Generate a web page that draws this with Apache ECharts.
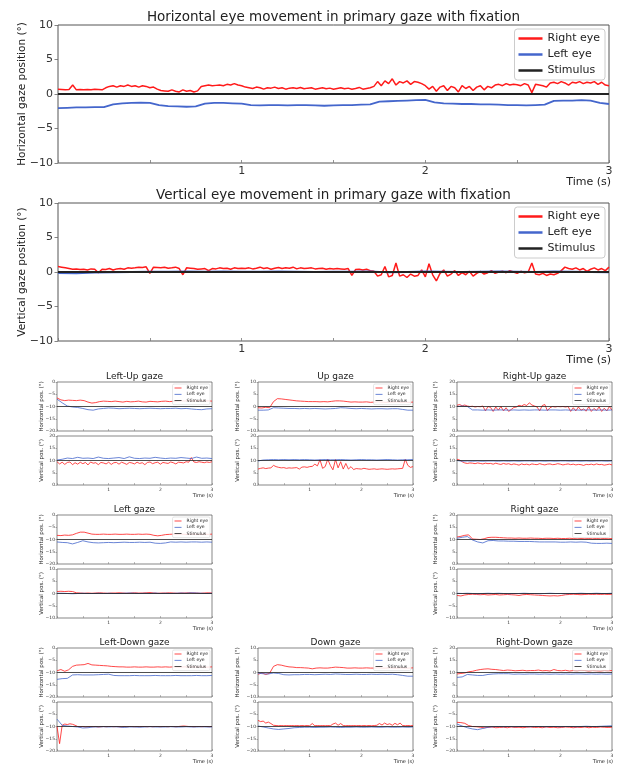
<!DOCTYPE html>
<html>
<head>
<meta charset="utf-8">
<script src="https://cdn.jsdelivr.net/npm/echarts@6.0.0/dist/echarts.min.js"></script>
<style>
  html, body { margin: 0; padding: 0; background: #fff; }
  #chart { width: 622px; height: 765px; }
</style>
</head>
<body>
<div id="chart"></div>
<script>
// ---------- labels ----------
const legendNames = ['Right eye', 'Left eye', 'Stimulus'];
const timeTickLabels = [1, 2, 3];

// ---------- primary gaze with fixation (degrees), 0–3 s ----------
// right eye sampled every 0.02 s, left eye every 0.05 s
const primaryHorizRight = [
  0.7,0.65,0.6,0.65,1.3,0.6,0.65,0.6,0.65,0.6,0.7,0.65,0.6,0.9,
  1.1,1.2,1.0,1.2,1.1,1.3,1.1,1.2,1.0,1.2,1.1,0.9,1.0,
  0.7,0.5,0.45,0.4,0.6,0.4,0.3,0.6,0.4,0.5,0.3,0.45,
  1.1,1.2,1.3,1.2,1.25,1.3,1.2,1.4,1.3,1.5,1.3,1.2,
  1.0,0.9,0.8,1.0,0.9,0.7,0.9,0.85,1.0,0.8,0.9,0.7,0.85,0.9,0.8,0.95,0.75,0.85,0.9,0.7,0.8,0.9,0.75,0.85,0.7,0.8,0.9,0.75,0.85,0.7,0.8,0.95,0.7,0.8,0.9,1.1,
  1.8,1.2,1.9,1.5,2.2,1.3,1.8,1.6,1.9,1.4,1.8,1.7,1.5,
  1.2,0.7,1.1,0.4,1.0,1.2,0.5,1.1,0.9,0.3,1.2,0.8,1.1,0.5,1.0,1.2,0.6,1.1,0.9,
  1.3,1.4,1.2,1.5,1.3,1.4,1.35,1.2,1.5,1.3,0.2,1.4,1.3,1.2,
  1.0,1.6,1.7,1.5,1.8,1.6,1.3,1.7,1.6,1.8,1.5,1.7,1.6,1.8,1.4,1.7,1.3,1.2
];
const primaryHorizLeft = [
  -2.05,-2.0,-1.95,-1.95,-1.9,-1.9,
  -1.5,-1.35,-1.3,-1.25,-1.3,
  -1.6,-1.75,-1.8,-1.85,-1.8,
  -1.4,-1.3,-1.3,-1.35,-1.4,
  -1.6,-1.65,-1.6,-1.6,-1.65,-1.6,-1.6,-1.65,-1.7,-1.65,-1.6,-1.6,-1.55,-1.5,
  -1.1,-1.05,-1.0,-0.95,-0.9,-0.85,
  -1.2,-1.35,-1.4,-1.45,-1.45,-1.5,-1.5,
  -1.55,-1.6,-1.6,-1.65,-1.6,-1.55,
  -1.0,-0.95,-0.95,-0.9,-0.95,-1.3,-1.45
];
const primaryHorizStim = [0, 0];

const primaryVertRight = [
  0.8,0.7,0.6,0.5,0.4,0.45,
  0.35,0.4,0.3,0.45,0.4,-0.1,0.4,0.35,0.5,0.3,0.45,0.5,0.4,0.6,0.55,
  0.6,0.7,0.65,0.75,-0.2,0.7,0.65,0.6,0.7,0.55,0.6,0.7,0.5,-0.4,0.6,0.55,
  0.5,0.4,0.45,0.5,0.2,0.5,0.45,0.6,0.5,0.55,0.4,0.6,0.5,0.55,
  0.5,0.6,0.45,0.55,0.7,0.5,0.6,0.4,0.55,0.65,0.5,0.6,0.55,0.7,0.45,0.6,0.5,0.55,0.6,0.45,0.5,0.55,0.4,0.5,0.45,
  0.5,0.45,0.4,0.5,-0.5,0.35,0.4,0.3,0.4,0.2,0.1,
  -0.6,-0.4,0.8,-0.7,-0.5,1.3,-0.6,-0.4,-0.8,-0.3,-0.6,-0.5,0.3,-0.7,
  1.2,-0.4,-1.3,-0.2,0.3,-0.6,-0.3,0.2,-0.5,-0.1,-0.4,0.1,-0.6,-0.2,0.1,-0.3,-0.1,0.2,-0.2,0.0,
  0.1,-0.1,0.2,0.0,-0.2,0.1,-0.1,0.0,1.3,
  -0.3,-0.4,-0.2,-0.5,-0.3,-0.4,-0.2,0.2,0.7,
  0.5,0.4,0.6,0.3,0.5,0.1,0.4,0.6,0.3,0.5,0.2,0.7
];
const primaryVertLeft = [
  -0.15,-0.2,-0.1,-0.05,0,0.05,0.05,0.1,0.05,0.1,0.05,0.05,0.1,0.05,0,0.05,
  0.05,0.1,-0.05,0,0.1,0.05,0,0.05,0.1,0.05,0,0.1,0.05,0,-0.05
];
const primaryVertStim = [0, 0];

// ---------- eccentric gaze positions (degrees), 0–3 s ----------
const leftUpHorizRight = [-6.5,-7.3,-7.6,-7.4,-7.5,-7.6,-7.4,-7.6,-8.2,-8.6,-8.4,-8.0,-7.8,-7.9,-8.0,-7.8,-8.0,-8.2,-7.9,-8.1,-8.0,-7.8,-8.1,-8.2,-7.9,-8.0,-8.1,-7.9,-7.8,-8.0,-7.9,-7.8,-7.7,-7.8,-7.6,-7.8,-7.7,-7.6,-7.8,-7.7,-7.8];
const leftUpHorizLeft = [-7.0,-8.5,-9.8,-10.2,-10.4,-10.8,-11.3,-11.5,-11.0,-10.8,-10.6,-10.7,-10.9,-10.8,-10.7,-10.8,-10.9,-10.8,-10.7,-10.8,-10.9,-10.8,-10.8,-10.7,-10.9,-10.8,-11.0,-11.2,-11.3,-11.0,-10.9];
const leftUpHorizStim = [-10, -10];
const leftUpVertRight = [9.5,8.6,9.3,8.4,9.2,9.4,8.3,9.1,8.5,9.3,8.7,9.2,8.2,9.4,8.9,9.1,8.3,9.2,9.0,8.6,9.3,8.4,9.1,9.2,8.5,9.3,8.9,8.4,9.2,9.0,8.6,9.3,8.8,9.1,8.3,9.2,9.4,8.7,9.1,9.3,8.5,9.2,9.0,8.8,9.4,9.1,8.6,9.3,9.2,9.0,9.5,9.3,11.2,9.4,9.2,9.5,9.3,9.1,9.4,9.2,9.5];
const leftUpVertLeft = [10.2,10.5,11.0,10.8,11.3,10.9,11.0,10.8,11.4,10.9,10.8,11.0,11.2,10.8,11.5,10.9,10.8,11.0,10.9,11.3,11.0,10.8,11.0,10.9,11.2,11.0,10.8,11.4,10.9,11.0,10.8];
const leftUpVertStim = [10, 10];

const upHorizRight = [-0.5,-0.6,-0.3,-0.5,2.0,3.2,3.1,2.9,2.7,2.5,2.3,2.2,2.1,2.0,2.0,2.0,1.9,2.0,1.9,2.1,2.3,2.3,2.2,2.0,1.8,1.9,1.8,1.8,1.9,1.7,1.8,1.9,1.8,1.7,1.8,1.8,1.9,1.7,1.8,1.7,1.8];
const upHorizLeft = [-1.5,-1.5,-1.4,-0.5,-0.6,-0.7,-0.8,-0.8,-0.9,-0.8,-0.9,-0.8,-0.9,-1.0,-0.9,-0.8,-0.5,-0.6,-0.8,-0.9,-0.8,-0.9,-1.0,-0.9,-0.9,-1.0,-0.9,-0.9,-1.2,-1.5,-1.5];
const upHorizStim = [0, 0];
const upVertRight = [6.5,6.8,7.0,6.7,6.9,7.0,8.0,7.5,7.2,7.0,7.1,6.8,7.0,6.9,7.0,7.1,6.5,7.3,7.4,7.2,7.5,7.6,8.5,7.8,10.3,6.8,7.5,10.5,8.0,6.2,10.4,7.0,9.5,6.5,8.8,6.5,7.5,6.3,6.7,6.6,6.5,6.8,6.6,6.4,6.5,6.6,6.4,6.5,6.6,6.5,6.4,6.5,6.6,6.5,6.6,6.7,6.8,10.5,8.0,7.2,7.5];
const upVertLeft = [9.8,10.2,10.3,10.4,10.3,10.4,10.3,10.4,10.3,10.4,10.3,10.2,10.3,10.4,10.3,10.3,10.4,10.3,10.2,10.3,10.4,10.3,10.3,10.2,10.3,10.4,10.3,10.2,10.3,10.3,10.4];
const upVertStim = [10, 10];

const rightUpHorizRight = [10.5,10.8,10.3,10.6,10.2,10.0,10.1,9.8,10.0,9.9,10.2,8.2,10.0,9.6,8.0,9.8,8.5,10.0,8.2,9.5,8.0,8.8,9.6,9.8,10.5,10.2,10.8,10.4,11.5,10.6,10.2,9.8,8.2,10.4,10.8,8.3,9.5,10.0,9.8,10.0,9.9,10.0,9.8,10.0,8.0,9.5,8.2,9.8,8.5,9.0,8.1,9.9,8.0,9.2,8.4,9.8,8.0,9.3,8.2,10.0,8.5];
const rightUpHorizLeft = [10.0,10.2,10.0,8.6,8.6,8.5,8.6,8.5,8.6,8.6,8.5,8.6,8.5,8.6,8.5,8.6,8.6,8.5,8.6,8.6,8.5,8.6,8.5,8.6,8.5,8.6,8.6,8.5,8.6,8.5,8.6];
const rightUpHorizStim = [10, 10];
const rightUpVertRight = [10.5,10.2,9.5,9.0,8.8,9.0,8.9,8.7,9.0,8.8,8.6,8.9,8.7,8.8,8.5,8.9,8.6,8.4,8.8,8.5,8.7,8.3,8.6,8.4,8.1,8.6,8.3,8.5,8.2,8.6,8.4,8.3,8.7,8.4,8.2,8.5,8.6,8.3,8.4,8.7,8.5,8.2,8.4,8.6,8.3,8.5,8.2,8.4,8.3,8.0,8.4,8.3,8.5,8.2,8.6,8.3,8.4,8.1,8.3,8.5,8.2];
const rightUpVertLeft = [10.0,9.7,9.8,9.7,9.8,9.7,9.8,9.8,9.7,9.8,9.7,9.8,9.7,9.8,9.8,9.7,9.8,9.7,9.8,9.7,9.8,9.8,9.7,9.8,9.7,9.8,9.7,9.8,9.8,9.7,9.8];
const rightUpVertStim = [10, 10];

const leftHorizRight = [-8.3,-8.4,-8.2,-8.3,-8.1,-7.5,-7.0,-7.0,-7.4,-7.8,-7.9,-7.9,-7.8,-7.9,-7.9,-7.8,-7.9,-7.9,-7.8,-7.9,-7.9,-7.8,-7.9,-7.8,-7.9,-8.3,-8.5,-8.3,-8.0,-7.9,-7.8,-7.9,-7.8,-7.9,-7.9,-7.8,-7.9,-7.9,-7.8,-7.9,-7.8];
const leftHorizLeft = [-11.0,-11.2,-11.3,-11.8,-11.2,-10.5,-11.0,-11.3,-11.4,-11.3,-11.2,-11.3,-11.2,-11.1,-11.2,-11.2,-11.1,-11.2,-11.1,-11.5,-11.6,-11.4,-11.0,-11.1,-11.0,-11.1,-11.0,-11.0,-11.1,-11.0,-11.1];
const leftHorizStim = [-10, -10];
const leftVertRight = [0.8,0.9,0.8,0.9,0.8,0.3,0.2,0.1,0.2,0.1,0.2,0.3,0.2,0.1,0.2,0.2,0.3,0.2,0.1,0.2,0.3,0.2,0.2,0.3,0.4,0.2,0.1,0.2,0.2,0.3,0.2,0.1,0.2,0.2,0.3,0.2,0.2,0.1,0.2,0.3,0.2];
const leftVertLeft = [0.1,0.1,0.0,-0.1,0.0,0.1,0.0,0.0,0.1,0.0,0.1,0.0,0.0,0.1,0.2,0.1,0.0,0.1,0.0,0.2,0.0,0.1,0.0,0.1,0.2,0.1,0.3,0.2,0.1,0.0,0.1];
const leftVertStim = [0, 0];

const rightHorizRight = [11.0,11.3,11.7,11.9,10.2,10.1,10.0,10.3,10.8,10.9,10.9,10.8,10.7,10.6,10.6,10.5,10.6,10.5,10.5,10.6,10.5,10.5,10.4,10.5,10.5,10.4,10.5,10.4,10.4,10.5,10.4,10.3,10.4,10.3,10.4,10.3,10.4,10.3,10.4,10.3,10.4];
const rightHorizLeft = [10.5,10.9,11.2,9.8,9.0,8.6,9.5,9.6,9.4,9.4,9.3,9.3,9.2,9.2,9.2,9.1,9.0,9.0,9.0,9.0,8.9,8.9,9.0,8.9,9.0,8.9,8.5,8.4,8.4,8.5,8.4];
const rightHorizStim = [10, 10];
const rightVertRight = [-0.8,-1.0,-0.6,-0.4,-0.3,-0.4,-0.5,-0.4,-0.6,-0.5,-0.4,-0.6,-0.5,-0.4,-0.5,-0.6,-0.8,-0.5,-0.4,-0.5,-0.6,-0.7,-0.8,-0.9,-1.0,-0.9,-1.0,-0.8,-0.5,-0.4,-0.3,-0.4,-0.5,-0.4,-0.3,-0.4,-0.3,-0.4,-0.3,-0.4,-0.3];
const rightVertLeft = [0.1,0.0,0.1,0.0,-0.1,0.0,0.1,0.0,0.1,0.0,-0.1,0.0,0.0,0.1,0.0,0.0,-0.1,0.0,0.1,0.0,0.0,-0.1,0.0,0.0,0.1,0.0,0.0,0.1,0.0,0.0,0.1];
const rightVertStim = [0, 0];

const leftDownHorizRight = [-9.3,-8.8,-9.5,-8.9,-7.5,-7.0,-6.9,-6.8,-6.3,-6.9,-7.0,-7.1,-7.2,-7.3,-7.5,-7.6,-7.7,-7.7,-7.8,-7.8,-7.7,-7.8,-7.8,-7.7,-7.8,-7.8,-7.7,-7.8,-7.7,-7.8,-7.7,-7.8,-7.8,-7.7,-7.8,-7.7,-7.8,-7.7,-7.8,-7.8,-7.7];
const leftDownHorizLeft = [-12.8,-12.5,-12.4,-11.0,-10.9,-11.0,-11.0,-11.0,-10.9,-10.8,-10.7,-11.2,-11.3,-11.3,-11.3,-11.2,-11.3,-11.3,-11.3,-11.2,-11.3,-11.3,-11.3,-11.2,-11.3,-11.3,-11.3,-11.2,-11.3,-11.3,-11.2];
const leftDownHorizStim = [-10, -10];
const leftDownVertRight = [-10,-17,-9.5,-9.0,-9.2,-8.9,-9.1,-9.5,-10.0,-10.1,-10.0,-10.2,-10.1,-10.0,-10.1,-10.0,-10.2,-10.1,-10.0,-10.1,-10.0,-10.0,-10.1,-10.0,-10.1,-10.2,-10.0,-10.1,-10.0,-10.0,-10.1,-10.0,-10.1,-10.0,-10.0,-10.1,-10.0,-10.1,-10.0,-10.0,-10.1,-10.0,-10.0,-10.1,-10.0,-10.0,-10.1,-10.0,-9.9,-9.8,-9.9,-10.0,-10.0,-10.1,-10.0,-10.0,-10.1,-10.0,-10.0,-10.1,-10.0];
const leftDownVertLeft = [-7.0,-9.5,-9.8,-10.0,-10.2,-10.6,-10.5,-10.2,-10.2,-10.1,-10.2,-10.1,-10.2,-10.4,-10.2,-10.2,-10.3,-10.2,-10.1,-10.2,-10.2,-10.2,-10.1,-10.2,-10.2,-10.1,-10.2,-10.2,-10.1,-10.2,-10.2];
const leftDownVertStim = [-10, -10];

const downHorizRight = [-0.7,-0.2,-0.8,-0.3,2.5,3.2,3.0,2.6,2.3,2.2,2.0,2.0,1.9,1.8,1.5,1.8,1.9,1.8,1.8,2.0,2.2,2.1,2.0,1.8,1.8,1.9,1.8,1.8,1.9,1.8,1.8,1.9,1.8,1.8,1.9,1.8,1.8,1.9,1.8,1.8,1.9];
const downHorizLeft = [-0.3,-0.5,-0.6,-0.2,-0.4,-0.9,-1.0,-0.9,-0.9,-0.8,-0.8,-0.9,-0.8,-0.7,-0.8,-0.6,-0.7,-0.8,-0.8,-0.7,-0.8,-0.8,-0.7,-0.8,-0.7,-0.8,-0.7,-0.9,-1.2,-1.5,-1.5];
const downHorizStim = [0, 0];
const downVertRight = [-7.5,-8.0,-7.8,-8.6,-8.2,-8.8,-9.5,-9.6,-9.7,-9.6,-9.7,-9.6,-9.7,-9.6,-9.7,-9.6,-9.7,-9.6,-9.7,-9.6,-9.7,-8.8,-9.7,-9.6,-9.7,-9.6,-9.7,-9.6,-9.7,-9.0,-8.6,-9.5,-8.8,-9.6,-9.7,-9.6,-9.7,-9.6,-9.7,-9.6,-9.7,-9.6,-9.7,-9.6,-9.7,-9.6,-9.5,-8.8,-9.4,-8.6,-9.2,-8.9,-9.5,-8.7,-9.3,-8.6,-9.6,-9.7,-9.6,-9.7,-9.6];
const downVertLeft = [-9.8,-10.2,-10.6,-11.0,-11.2,-11.0,-10.8,-10.5,-10.4,-10.3,-10.3,-10.4,-10.3,-10.3,-10.2,-10.3,-10.4,-10.3,-10.3,-10.2,-10.3,-10.3,-10.2,-10.3,-10.3,-10.2,-10.3,-10.3,-10.2,-10.3,-10.2];
const downVertStim = [-10, -10];

const rightDownHorizRight = [9.4,9.6,9.8,10.3,10.5,10.9,11.2,11.4,11.5,11.3,11.2,11.0,10.8,11.0,10.9,10.7,10.8,10.9,10.7,10.8,10.8,11.0,10.7,10.8,10.6,11.2,10.8,10.7,10.9,10.6,10.8,10.7,10.9,10.8,10.6,10.8,10.7,10.6,10.8,10.7,10.8];
const rightDownHorizLeft = [8.0,8.2,9.2,9.0,8.8,8.8,9.2,9.4,9.5,9.5,9.5,9.3,9.4,9.3,9.4,9.4,9.3,9.4,9.3,9.4,9.3,9.4,9.3,9.4,9.4,9.3,9.4,9.3,9.4,9.3,9.4];
const rightDownHorizStim = [10, 10];
const rightDownVertRight = [-8.3,-8.4,-8.7,-9.6,-10.0,-10.1,-10.3,-10.5,-10.4,-10.2,-10.5,-10.4,-10.3,-10.5,-10.2,-10.4,-10.3,-10.5,-10.3,-10.2,-10.4,-10.3,-10.5,-10.2,-10.4,-10.3,-10.5,-10.4,-10.2,-10.3,-10.5,-10.3,-10.4,-10.2,-10.5,-10.3,-10.4,-10.2,-10.3,-10.4,-10.3];
const rightDownVertLeft = [-9.0,-9.8,-10.5,-11.0,-11.3,-10.8,-10.3,-10.1,-10.0,-10.1,-10.0,-10.1,-10.0,-10.0,-10.1,-10.0,-10.0,-10.1,-10.0,-10.0,-10.1,-10.0,-10.0,-10.1,-10.0,-9.9,-10.0,-10.0,-9.9,-9.8,-9.7];
const rightDownVertStim = [-10, -10];

// ---------- styling & layout ----------
const FONT = 'DejaVu Sans';
const RED = '#ff1a1a', BLUE = '#4466cc', BLACK = '#222222';
const FRAME = '#555555', TEXT = '#333333';

const bigLeft = 58, bigWidth = 551, bigHeight = 138, bigTops = [25, 203];
const bigNameX = 22;
const colLeft = [57, 258, 457], panelWidth = 155;
const rowTop = [382, 515, 648], subHeight = 49, subGap = 5;
const colNameX = [42, 238, 436];

const panels = [
  { title: 'Left-Up gaze',    col: 0, row: 0, hRange: [-20, 0], vRange: [0, 20],
    h: [leftUpHorizRight, leftUpHorizLeft, leftUpHorizStim], v: [leftUpVertRight, leftUpVertLeft, leftUpVertStim] },
  { title: 'Up gaze',         col: 1, row: 0, hRange: [-10, 10], vRange: [0, 20],
    h: [upHorizRight, upHorizLeft, upHorizStim], v: [upVertRight, upVertLeft, upVertStim] },
  { title: 'Right-Up gaze',   col: 2, row: 0, hRange: [0, 20], vRange: [0, 20],
    h: [rightUpHorizRight, rightUpHorizLeft, rightUpHorizStim], v: [rightUpVertRight, rightUpVertLeft, rightUpVertStim] },
  { title: 'Left gaze',       col: 0, row: 1, hRange: [-20, 0], vRange: [-10, 10],
    h: [leftHorizRight, leftHorizLeft, leftHorizStim], v: [leftVertRight, leftVertLeft, leftVertStim] },
  { title: 'Right gaze',      col: 2, row: 1, hRange: [0, 20], vRange: [-10, 10],
    h: [rightHorizRight, rightHorizLeft, rightHorizStim], v: [rightVertRight, rightVertLeft, rightVertStim] },
  { title: 'Left-Down gaze',  col: 0, row: 2, hRange: [-20, 0], vRange: [-20, 0],
    h: [leftDownHorizRight, leftDownHorizLeft, leftDownHorizStim], v: [leftDownVertRight, leftDownVertLeft, leftDownVertStim] },
  { title: 'Down gaze',       col: 1, row: 2, hRange: [-10, 10], vRange: [-20, 0],
    h: [downHorizRight, downHorizLeft, downHorizStim], v: [downVertRight, downVertLeft, downVertStim] },
  { title: 'Right-Down gaze', col: 2, row: 2, hRange: [0, 20], vRange: [-20, 0],
    h: [rightDownHorizRight, rightDownHorizLeft, rightDownHorizStim], v: [rightDownVertRight, rightDownVertLeft, rightDownVertStim] }
];

// ---------- helpers ----------
const fmtTick = v => (v < 0 ? '\u2212' + Math.abs(v) : String(v));
const fmtTime = v => (timeTickLabels.indexOf(v) >= 0 ? String(v) : '');
const toPairs = arr => arr.map((v, i) => [i * 3 / (arr.length - 1), v]);

const grids = [], xAxes = [], yAxes = [], series = [], legends = [], texts = [];

function addText(text, x, y, size, align, rotation) {
  texts.push({
    type: 'text', x: x, y: y, rotation: rotation || 0, silent: true,
    style: { text: text, fontSize: size, fontFamily: FONT, fill: '#222',
             align: align, textAlign: align, verticalAlign: 'middle', textVerticalAlign: 'middle' }
  });
}

function addPlot(cfg) {
  const gi = grids.length;
  const small = cfg.small;
  grids.push({
    left: cfg.left, top: cfg.top, width: cfg.width, height: cfg.height,
    show: true, borderColor: FRAME, borderWidth: small ? 0.7 : 1, backgroundColor: 'transparent',
    containLabel: false, outerBoundsMode: 'none'
  });
  xAxes.push({
    type: 'value', gridIndex: gi, min: 0, max: 3, interval: 0.5,
    axisLine: { show: false, onZero: false },
    axisTick: { show: true, inside: true, length: small ? 2 : 3, lineStyle: { color: '#777', width: small ? 0.5 : 0.8 } },
    axisLabel: { show: cfg.showX, formatter: fmtTime, fontSize: small ? 4.5 : 11, color: TEXT, fontFamily: FONT, margin: small ? 2 : 3 },
    splitLine: { show: false }
  });
  yAxes.push({
    type: 'value', gridIndex: gi, min: cfg.range[0], max: cfg.range[1], interval: 5,
    axisLine: { show: false, onZero: false },
    axisTick: { show: true, length: small ? 1.5 : 3.5, lineStyle: { color: '#666', width: small ? 0.5 : 0.8 } },
    axisLabel: { formatter: fmtTick, fontSize: small ? 4.5 : 11, color: TEXT, fontFamily: FONT, margin: small ? 2 : 5 },
    splitLine: { show: false }
  });
  // rotated axis title, centred on the plot's height
  addText(cfg.name, cfg.nameX, cfg.top + cfg.height / 2, small ? 5.5 : 10.5, 'center', Math.PI / 2);

  const colors = [RED, BLUE, BLACK];
  const widths = small ? [0.8, 0.8, 0.8] : [1.5, 1.8, 2.2];
  cfg.data.forEach((arr, k) => {
    series.push({
      type: 'line', name: legendNames[k], xAxisIndex: gi, yAxisIndex: gi,
      data: toPairs(arr), showSymbol: false, symbol: 'none', silent: true,
      lineStyle: { color: colors[k], width: widths[k] }, itemStyle: { color: colors[k] },
      z: 2 + k
    });
  });
  return gi;
}

// ---------- primary gaze charts ----------
const bigDefs = [
  { title: 'Horizontal eye movement in primary gaze with fixation', name: 'Horizontal gaze position (\u00b0)',
    data: [primaryHorizRight, primaryHorizLeft, primaryHorizStim] },
  { title: 'Vertical eye movement in primary gaze with fixation', name: 'Vertical gaze position (\u00b0)',
    data: [primaryVertRight, primaryVertLeft, primaryVertStim] }
];
bigDefs.forEach((d, i) => {
  const top = bigTops[i];
  addPlot({ left: bigLeft, top: top, width: bigWidth, height: bigHeight, range: [-10, 10],
            name: d.name, nameX: bigNameX, showX: true, small: false, data: d.data });
  addText(d.title, bigLeft + bigWidth / 2, top - 8, 13.5, 'center');
  addText('Time (s)', bigLeft + bigWidth + 2, top + bigHeight + 19, 11, 'right');
  legends.push({
    data: legendNames, orient: 'vertical', right: 622 - (bigLeft + bigWidth) + 4, top: top + 4,
    icon: 'rect', itemWidth: 24, itemHeight: 2.5, itemGap: 3, padding: [3, 5, 3, 4],
    backgroundColor: 'rgba(255,255,255,0.85)', borderColor: '#cccccc', borderWidth: 1, borderRadius: 3,
    textStyle: { fontSize: 11, lineHeight: 13, color: '#222', fontFamily: FONT }, selectedMode: false
  });
});

// ---------- eccentric gaze panels ----------
panels.forEach(p => {
  const left = colLeft[p.col], top = rowTop[p.row];
  addPlot({ left: left, top: top, width: panelWidth, height: subHeight, range: p.hRange,
            name: 'Horizontal pos. (\u00b0)', nameX: colNameX[p.col], showX: false, small: true, data: p.h });
  addPlot({ left: left, top: top + subHeight + subGap, width: panelWidth, height: subHeight, range: p.vRange,
            name: 'Vertical pos. (\u00b0)', nameX: colNameX[p.col], showX: true, small: true, data: p.v });
  addText(p.title, left + panelWidth / 2, top - 5, 9, 'center');
  addText('Time (s)', left + panelWidth + 1, top + 2 * subHeight + subGap + 11, 5, 'right');
  legends.push({
    data: legendNames, orient: 'vertical', right: 622 - (left + panelWidth) + 2, top: top + 2,
    icon: 'rect', itemWidth: 7, itemHeight: 0.8, itemGap: 1.3, padding: [1.5, 2, 1.5, 2],
    backgroundColor: 'rgba(255,255,255,0.85)', borderColor: '#cccccc', borderWidth: 0.5, borderRadius: 1.5,
    textStyle: { fontSize: 4.5, lineHeight: 5, color: '#222', fontFamily: FONT }, selectedMode: false
  });
});

const chart = echarts.init(document.getElementById('chart'), null, { renderer: 'canvas' });
chart.setOption({
  backgroundColor: '#ffffff',
  animation: false,
  grid: grids,
  xAxis: xAxes,
  yAxis: yAxes,
  legend: legends,
  series: series,
  graphic: { elements: texts }
});
</script>
</body>
</html>
